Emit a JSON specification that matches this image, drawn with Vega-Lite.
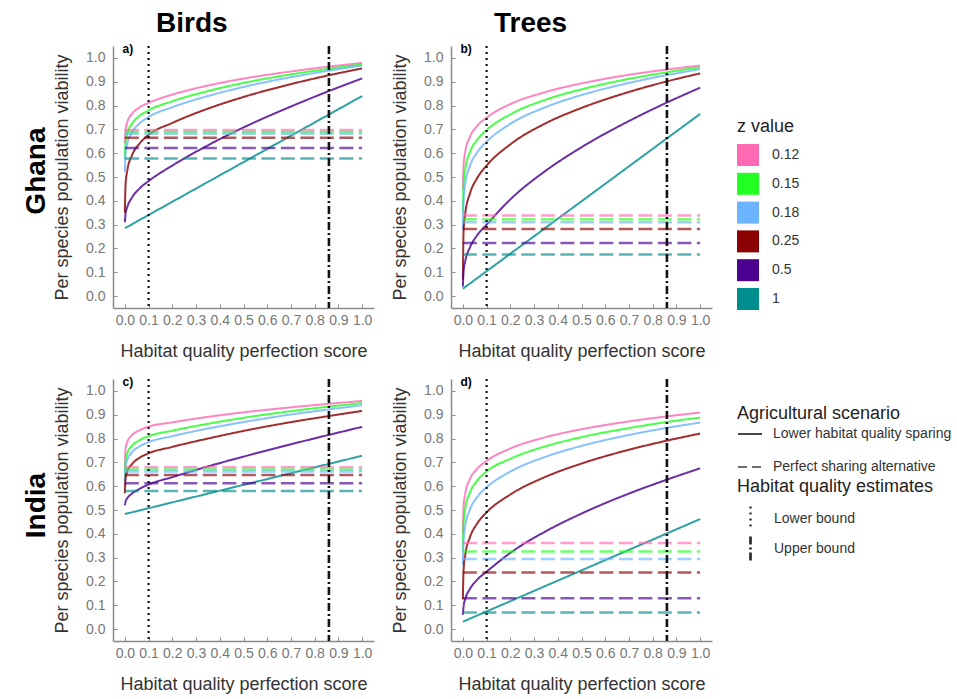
{
  "$schema": "https://vega.github.io/schema/vega-lite/v6.json",
  "padding": {"left": 22, "top": 10, "right": 5, "bottom": 5},
  "config": {
    "view": {"stroke": null},
    "font": "Liberation Sans",
    "axis": {"grid": false, "tickCount": 11, "domainColor": "#8a8a8a", "domainWidth": 1.5, "tickColor": "#8a8a8a", "tickSize": -4, "tickWidth": 1, "labelColor": "#777777", "labelFontSize": 14, "labelFlush": false, "labelOverlap": false, "titleFontSize": 18, "titleFontWeight": "normal", "titleColor": "#333333"},
    "axisX": {"labelPadding": 9, "titlePadding": 15},
    "axisY": {"labelPadding": 12, "titlePadding": 14},
    "legend": {"labelFontSize": 14, "titleFontSize": 18, "titleFontWeight": "normal", "labelColor": "#333333", "titleColor": "#222222", "padding": 0, "labelLimit": 400, "titleLimit": 400}
  },
  "datasets": {
    "bounds": [{"bound": "Lower bound", "hq": 0.1}, {"bound": "Upper bound", "hq": 0.86}],
    "sharing": [
      {"panel":"a","z":0.12,"x":0,"y":0.697},{"panel":"a","z":0.12,"x":1,"y":0.697},
      {"panel":"a","z":0.15,"x":0,"y":0.689},{"panel":"a","z":0.15,"x":1,"y":0.689},
      {"panel":"a","z":0.18,"x":0,"y":0.682},{"panel":"a","z":0.18,"x":1,"y":0.682},
      {"panel":"a","z":0.25,"x":0,"y":0.665},{"panel":"a","z":0.25,"x":1,"y":0.665},
      {"panel":"a","z":0.5,"x":0,"y":0.622},{"panel":"a","z":0.5,"x":1,"y":0.622},
      {"panel":"a","z":1,"x":0,"y":0.578},{"panel":"a","z":1,"x":1,"y":0.578},
      {"panel":"b","z":0.12,"x":0,"y":0.338},{"panel":"b","z":0.12,"x":1,"y":0.338},
      {"panel":"b","z":0.15,"x":0,"y":0.323},{"panel":"b","z":0.15,"x":1,"y":0.323},
      {"panel":"b","z":0.18,"x":0,"y":0.31},{"panel":"b","z":0.18,"x":1,"y":0.31},
      {"panel":"b","z":0.25,"x":0,"y":0.282},{"panel":"b","z":0.25,"x":1,"y":0.282},
      {"panel":"b","z":0.5,"x":0,"y":0.223},{"panel":"b","z":0.5,"x":1,"y":0.223},
      {"panel":"b","z":1,"x":0,"y":0.175},{"panel":"b","z":1,"x":1,"y":0.175},
      {"panel":"c","z":0.12,"x":0,"y":0.679},{"panel":"c","z":0.12,"x":1,"y":0.679},
      {"panel":"c","z":0.15,"x":0,"y":0.67},{"panel":"c","z":0.15,"x":1,"y":0.67},
      {"panel":"c","z":0.18,"x":0,"y":0.662},{"panel":"c","z":0.18,"x":1,"y":0.662},
      {"panel":"c","z":0.25,"x":0,"y":0.647},{"panel":"c","z":0.25,"x":1,"y":0.647},
      {"panel":"c","z":0.5,"x":0,"y":0.612},{"panel":"c","z":0.5,"x":1,"y":0.612},
      {"panel":"c","z":1,"x":0,"y":0.58},{"panel":"c","z":1,"x":1,"y":0.58},
      {"panel":"d","z":0.12,"x":0,"y":0.361},{"panel":"d","z":0.12,"x":1,"y":0.361},
      {"panel":"d","z":0.15,"x":0,"y":0.326},{"panel":"d","z":0.15,"x":1,"y":0.326},
      {"panel":"d","z":0.18,"x":0,"y":0.294},{"panel":"d","z":0.18,"x":1,"y":0.294},
      {"panel":"d","z":0.25,"x":0,"y":0.238},{"panel":"d","z":0.25,"x":1,"y":0.238},
      {"panel":"d","z":0.5,"x":0,"y":0.13},{"panel":"d","z":0.5,"x":1,"y":0.13},
      {"panel":"d","z":1,"x":0,"y":0.07},{"panel":"d","z":1,"x":1,"y":0.07}
    ],
    "curves": [
      {"panel":"a","z":0.12,"x":0,"y":0.64},{"panel":"a","z":0.12,"x":0.003,"y":0.699},{"panel":"a","z":0.12,"x":0.01,"y":0.729},{"panel":"a","z":0.12,"x":0.03,"y":0.765},{"panel":"a","z":0.12,"x":0.06,"y":0.791},{"panel":"a","z":0.12,"x":0.1,"y":0.811},{"panel":"a","z":0.12,"x":0.2,"y":0.846},{"panel":"a","z":0.12,"x":0.35,"y":0.884},{"panel":"a","z":0.12,"x":0.5,"y":0.913},{"panel":"a","z":0.12,"x":0.7,"y":0.943},{"panel":"a","z":0.12,"x":0.85,"y":0.962},{"panel":"a","z":0.12,"x":1,"y":0.979},
      {"panel":"a","z":0.15,"x":0,"y":0.58},{"panel":"a","z":0.15,"x":0.003,"y":0.647},{"panel":"a","z":0.15,"x":0.01,"y":0.682},{"panel":"a","z":0.15,"x":0.03,"y":0.724},{"panel":"a","z":0.15,"x":0.06,"y":0.755},{"panel":"a","z":0.15,"x":0.1,"y":0.78},{"panel":"a","z":0.15,"x":0.2,"y":0.818},{"panel":"a","z":0.15,"x":0.35,"y":0.861},{"panel":"a","z":0.15,"x":0.5,"y":0.895},{"panel":"a","z":0.15,"x":0.7,"y":0.931},{"panel":"a","z":0.15,"x":0.85,"y":0.953},{"panel":"a","z":0.15,"x":1,"y":0.973},
      {"panel":"a","z":0.18,"x":0,"y":0.52},{"panel":"a","z":0.18,"x":0.003,"y":0.598},{"panel":"a","z":0.18,"x":0.01,"y":0.639},{"panel":"a","z":0.18,"x":0.03,"y":0.687},{"panel":"a","z":0.18,"x":0.06,"y":0.723},{"panel":"a","z":0.18,"x":0.1,"y":0.752},{"panel":"a","z":0.18,"x":0.2,"y":0.793},{"panel":"a","z":0.18,"x":0.35,"y":0.84},{"panel":"a","z":0.18,"x":0.5,"y":0.878},{"panel":"a","z":0.18,"x":0.7,"y":0.919},{"panel":"a","z":0.18,"x":0.85,"y":0.945},{"panel":"a","z":0.18,"x":1,"y":0.968},
      {"panel":"a","z":0.25,"x":0,"y":0.35},{"panel":"a","z":0.25,"x":0.003,"y":0.47},{"panel":"a","z":0.25,"x":0.01,"y":0.526},{"panel":"a","z":0.25,"x":0.03,"y":0.591},{"panel":"a","z":0.25,"x":0.06,"y":0.638},{"panel":"a","z":0.25,"x":0.1,"y":0.677},{"panel":"a","z":0.25,"x":0.2,"y":0.727},{"panel":"a","z":0.25,"x":0.35,"y":0.787},{"panel":"a","z":0.25,"x":0.5,"y":0.836},{"panel":"a","z":0.25,"x":0.7,"y":0.89},{"panel":"a","z":0.25,"x":0.85,"y":0.925},{"panel":"a","z":0.25,"x":1,"y":0.956},
      {"panel":"a","z":0.5,"x":0,"y":0.31},{"panel":"a","z":0.5,"x":0.003,"y":0.346},{"panel":"a","z":0.5,"x":0.01,"y":0.373},{"panel":"a","z":0.5,"x":0.03,"y":0.414},{"panel":"a","z":0.5,"x":0.06,"y":0.45},{"panel":"a","z":0.5,"x":0.1,"y":0.483},{"panel":"a","z":0.5,"x":0.2,"y":0.548},{"panel":"a","z":0.5,"x":0.35,"y":0.633},{"panel":"a","z":0.5,"x":0.5,"y":0.708},{"panel":"a","z":0.5,"x":0.7,"y":0.796},{"panel":"a","z":0.5,"x":0.85,"y":0.857},{"panel":"a","z":0.5,"x":1,"y":0.914},
      {"panel":"a","z":1,"x":0,"y":0.285},{"panel":"a","z":1,"x":1,"y":0.84},
      {"panel":"b","z":0.12,"x":0,"y":0.45},{"panel":"b","z":0.12,"x":0.003,"y":0.548},{"panel":"b","z":0.12,"x":0.01,"y":0.606},{"panel":"b","z":0.12,"x":0.03,"y":0.669},{"panel":"b","z":0.12,"x":0.06,"y":0.714},{"panel":"b","z":0.12,"x":0.1,"y":0.749},{"panel":"b","z":0.12,"x":0.2,"y":0.806},{"panel":"b","z":0.12,"x":0.35,"y":0.857},{"panel":"b","z":0.12,"x":0.5,"y":0.893},{"panel":"b","z":0.12,"x":0.7,"y":0.929},{"panel":"b","z":0.12,"x":0.85,"y":0.95},{"panel":"b","z":0.12,"x":1,"y":0.968},
      {"panel":"b","z":0.15,"x":0,"y":0.35},{"panel":"b","z":0.15,"x":0.003,"y":0.468},{"panel":"b","z":0.15,"x":0.01,"y":0.533},{"panel":"b","z":0.15,"x":0.03,"y":0.605},{"panel":"b","z":0.15,"x":0.06,"y":0.656},{"panel":"b","z":0.15,"x":0.1,"y":0.697},{"panel":"b","z":0.15,"x":0.2,"y":0.763},{"panel":"b","z":0.15,"x":0.35,"y":0.825},{"panel":"b","z":0.15,"x":0.5,"y":0.868},{"panel":"b","z":0.15,"x":0.7,"y":0.912},{"panel":"b","z":0.15,"x":0.85,"y":0.938},{"panel":"b","z":0.15,"x":1,"y":0.961},
      {"panel":"b","z":0.18,"x":0,"y":0.28},{"panel":"b","z":0.18,"x":0.003,"y":0.401},{"panel":"b","z":0.18,"x":0.01,"y":0.47},{"panel":"b","z":0.18,"x":0.03,"y":0.547},{"panel":"b","z":0.18,"x":0.06,"y":0.603},{"panel":"b","z":0.18,"x":0.1,"y":0.648},{"panel":"b","z":0.18,"x":0.2,"y":0.723},{"panel":"b","z":0.18,"x":0.35,"y":0.794},{"panel":"b","z":0.18,"x":0.5,"y":0.844},{"panel":"b","z":0.18,"x":0.7,"y":0.895},{"panel":"b","z":0.18,"x":0.85,"y":0.926},{"panel":"b","z":0.18,"x":1,"y":0.953},
      {"panel":"b","z":0.25,"x":0,"y":0.07},{"panel":"b","z":0.25,"x":0.003,"y":0.272},{"panel":"b","z":0.25,"x":0.01,"y":0.346},{"panel":"b","z":0.25,"x":0.03,"y":0.431},{"panel":"b","z":0.25,"x":0.06,"y":0.495},{"panel":"b","z":0.25,"x":0.1,"y":0.548},{"panel":"b","z":0.25,"x":0.2,"y":0.637},{"panel":"b","z":0.25,"x":0.35,"y":0.726},{"panel":"b","z":0.25,"x":0.5,"y":0.79},{"panel":"b","z":0.25,"x":0.7,"y":0.857},{"panel":"b","z":0.25,"x":0.85,"y":0.899},{"panel":"b","z":0.25,"x":1,"y":0.935},
      {"panel":"b","z":0.5,"x":0,"y":0.04},{"panel":"b","z":0.5,"x":0.003,"y":0.103},{"panel":"b","z":0.5,"x":0.01,"y":0.146},{"panel":"b","z":0.5,"x":0.03,"y":0.205},{"panel":"b","z":0.5,"x":0.06,"y":0.255},{"panel":"b","z":0.5,"x":0.1,"y":0.3},{"panel":"b","z":0.5,"x":0.2,"y":0.406},{"panel":"b","z":0.5,"x":0.35,"y":0.527},{"panel":"b","z":0.5,"x":0.5,"y":0.625},{"panel":"b","z":0.5,"x":0.7,"y":0.735},{"panel":"b","z":0.5,"x":0.85,"y":0.808},{"panel":"b","z":0.5,"x":1,"y":0.875},
      {"panel":"b","z":1,"x":0,"y":0.031},{"panel":"b","z":1,"x":1,"y":0.765},
      {"panel":"c","z":0.12,"x":0,"y":0.66},{"panel":"c","z":0.12,"x":0.003,"y":0.757},{"panel":"c","z":0.12,"x":0.01,"y":0.785},{"panel":"c","z":0.12,"x":0.03,"y":0.814},{"panel":"c","z":0.12,"x":0.06,"y":0.834},{"panel":"c","z":0.12,"x":0.1,"y":0.85},{"panel":"c","z":0.12,"x":0.2,"y":0.868},{"panel":"c","z":0.12,"x":0.35,"y":0.891},{"panel":"c","z":0.12,"x":0.5,"y":0.91},{"panel":"c","z":0.12,"x":0.7,"y":0.931},{"panel":"c","z":0.12,"x":0.85,"y":0.945},{"panel":"c","z":0.12,"x":1,"y":0.958},
      {"panel":"c","z":0.15,"x":0,"y":0.62},{"panel":"c","z":0.15,"x":0.003,"y":0.709},{"panel":"c","z":0.15,"x":0.01,"y":0.738},{"panel":"c","z":0.15,"x":0.03,"y":0.77},{"panel":"c","z":0.15,"x":0.06,"y":0.792},{"panel":"c","z":0.15,"x":0.1,"y":0.81},{"panel":"c","z":0.15,"x":0.2,"y":0.833},{"panel":"c","z":0.15,"x":0.35,"y":0.862},{"panel":"c","z":0.15,"x":0.5,"y":0.887},{"panel":"c","z":0.15,"x":0.7,"y":0.915},{"panel":"c","z":0.15,"x":0.85,"y":0.933},{"panel":"c","z":0.15,"x":1,"y":0.949},
      {"panel":"c","z":0.18,"x":0,"y":0.6},{"panel":"c","z":0.18,"x":0.003,"y":0.68},{"panel":"c","z":0.18,"x":0.01,"y":0.709},{"panel":"c","z":0.18,"x":0.03,"y":0.742},{"panel":"c","z":0.18,"x":0.06,"y":0.766},{"panel":"c","z":0.18,"x":0.1,"y":0.785},{"panel":"c","z":0.18,"x":0.2,"y":0.81},{"panel":"c","z":0.18,"x":0.35,"y":0.842},{"panel":"c","z":0.18,"x":0.5,"y":0.869},{"panel":"c","z":0.18,"x":0.7,"y":0.901},{"panel":"c","z":0.18,"x":0.85,"y":0.921},{"panel":"c","z":0.18,"x":1,"y":0.94},
      {"panel":"c","z":0.25,"x":0,"y":0.57},{"panel":"c","z":0.25,"x":0.003,"y":0.634},{"panel":"c","z":0.25,"x":0.01,"y":0.661},{"panel":"c","z":0.25,"x":0.03,"y":0.693},{"panel":"c","z":0.25,"x":0.06,"y":0.718},{"panel":"c","z":0.25,"x":0.1,"y":0.738},{"panel":"c","z":0.25,"x":0.2,"y":0.765},{"panel":"c","z":0.25,"x":0.35,"y":0.8},{"panel":"c","z":0.25,"x":0.5,"y":0.832},{"panel":"c","z":0.25,"x":0.7,"y":0.869},{"panel":"c","z":0.25,"x":0.85,"y":0.893},{"panel":"c","z":0.25,"x":1,"y":0.916},
      {"panel":"c","z":0.5,"x":0,"y":0.52},{"panel":"c","z":0.5,"x":0.003,"y":0.536},{"panel":"c","z":0.5,"x":0.01,"y":0.549},{"panel":"c","z":0.5,"x":0.03,"y":0.569},{"panel":"c","z":0.5,"x":0.06,"y":0.588},{"panel":"c","z":0.5,"x":0.1,"y":0.607},{"panel":"c","z":0.5,"x":0.2,"y":0.638},{"panel":"c","z":0.5,"x":0.35,"y":0.683},{"panel":"c","z":0.5,"x":0.5,"y":0.724},{"panel":"c","z":0.5,"x":0.7,"y":0.776},{"panel":"c","z":0.5,"x":0.85,"y":0.813},{"panel":"c","z":0.5,"x":1,"y":0.849},
      {"panel":"c","z":1,"x":0,"y":0.483},{"panel":"c","z":1,"x":1,"y":0.728},
      {"panel":"d","z":0.12,"x":0,"y":0.4},{"panel":"d","z":0.12,"x":0.003,"y":0.512},{"panel":"d","z":0.12,"x":0.01,"y":0.569},{"panel":"d","z":0.12,"x":0.03,"y":0.63},{"panel":"d","z":0.12,"x":0.06,"y":0.673},{"panel":"d","z":0.12,"x":0.1,"y":0.706},{"panel":"d","z":0.12,"x":0.2,"y":0.758},{"panel":"d","z":0.12,"x":0.35,"y":0.806},{"panel":"d","z":0.12,"x":0.5,"y":0.839},{"panel":"d","z":0.12,"x":0.7,"y":0.872},{"panel":"d","z":0.12,"x":0.85,"y":0.892},{"panel":"d","z":0.12,"x":1,"y":0.909},
      {"panel":"d","z":0.15,"x":0,"y":0.33},{"panel":"d","z":0.15,"x":0.003,"y":0.444},{"panel":"d","z":0.15,"x":0.01,"y":0.506},{"panel":"d","z":0.15,"x":0.03,"y":0.574},{"panel":"d","z":0.15,"x":0.06,"y":0.623},{"panel":"d","z":0.15,"x":0.1,"y":0.662},{"panel":"d","z":0.15,"x":0.2,"y":0.715},{"panel":"d","z":0.15,"x":0.35,"y":0.768},{"panel":"d","z":0.15,"x":0.5,"y":0.806},{"panel":"d","z":0.15,"x":0.7,"y":0.844},{"panel":"d","z":0.15,"x":0.85,"y":0.868},{"panel":"d","z":0.15,"x":1,"y":0.888},
      {"panel":"d","z":0.18,"x":0,"y":0.27},{"panel":"d","z":0.18,"x":0.003,"y":0.371},{"panel":"d","z":0.18,"x":0.01,"y":0.432},{"panel":"d","z":0.18,"x":0.03,"y":0.502},{"panel":"d","z":0.18,"x":0.06,"y":0.554},{"panel":"d","z":0.18,"x":0.1,"y":0.595},{"panel":"d","z":0.18,"x":0.2,"y":0.661},{"panel":"d","z":0.18,"x":0.35,"y":0.724},{"panel":"d","z":0.18,"x":0.5,"y":0.769},{"panel":"d","z":0.18,"x":0.7,"y":0.815},{"panel":"d","z":0.18,"x":0.85,"y":0.843},{"panel":"d","z":0.18,"x":1,"y":0.867},
      {"panel":"d","z":0.25,"x":0,"y":0.125},{"panel":"d","z":0.25,"x":0.003,"y":0.247},{"panel":"d","z":0.25,"x":0.01,"y":0.311},{"panel":"d","z":0.25,"x":0.03,"y":0.386},{"panel":"d","z":0.25,"x":0.06,"y":0.443},{"panel":"d","z":0.25,"x":0.1,"y":0.49},{"panel":"d","z":0.25,"x":0.2,"y":0.565},{"panel":"d","z":0.25,"x":0.35,"y":0.64},{"panel":"d","z":0.25,"x":0.5,"y":0.695},{"panel":"d","z":0.25,"x":0.7,"y":0.753},{"panel":"d","z":0.25,"x":0.85,"y":0.789},{"panel":"d","z":0.25,"x":1,"y":0.821},
      {"panel":"d","z":0.5,"x":0,"y":0.06},{"panel":"d","z":0.5,"x":0.003,"y":0.096},{"panel":"d","z":0.5,"x":0.01,"y":0.126},{"panel":"d","z":0.5,"x":0.03,"y":0.169},{"panel":"d","z":0.5,"x":0.06,"y":0.207},{"panel":"d","z":0.5,"x":0.1,"y":0.241},{"panel":"d","z":0.5,"x":0.2,"y":0.32},{"panel":"d","z":0.5,"x":0.35,"y":0.411},{"panel":"d","z":0.5,"x":0.5,"y":0.485},{"panel":"d","z":0.5,"x":0.7,"y":0.569},{"panel":"d","z":0.5,"x":0.85,"y":0.624},{"panel":"d","z":0.5,"x":1,"y":0.675},
      {"panel":"d","z":1,"x":0,"y":0.031},{"panel":"d","z":1,"x":1,"y":0.462}
    ]
  },
  "bounds": "full",
  "spacing": 16,
  "vconcat": [
    {
      "title": {"text": "Ghana", "orient": "left", "anchor": "middle", "frame": "bounds", "dx": 14, "fontSize": 28, "fontWeight": "bold", "color": "#000000", "offset": 3},
      "bounds": "flush",
      "spacing": 77,
      "hconcat": [
        {
          "width": 261, "height": 262,
          "title": {"text": "Birds", "anchor": "start", "frame": "group", "dx": 43, "offset": -17, "baseline": "alphabetic", "fontSize": 28, "fontWeight": "bold", "color": "#000000"},
          "layer": [
            {"data": {"name": "curves"}, "transform": [{"filter": "datum.panel === 'a'"}],
             "mark": {"type": "line", "strokeWidth": 2, "interpolate": "monotone"},
             "encoding": {
               "x": {"field": "x", "type": "quantitative", "scale": {"domain": [-0.05, 1.05], "nice": false, "zero": false}, "title": "Habitat quality perfection score"},
               "y": {"field": "y", "type": "quantitative", "scale": {"domain": [-0.05, 1.05], "nice": false, "zero": false}, "title": "Per species population viability"},
               "color": {"field": "z", "type": "nominal", "scale": {"domain": [0.12,0.15,0.18,0.25,0.5,1], "range": ["#FF69B4","#22FF22","#6CB4FF","#8B0000","#4B0090","#008E8E"]},
                 "legend": {"title": "z value", "orient": "none", "legendX": 624, "legendY": 72, "symbolType": "square", "symbolSize": 484, "symbolStrokeWidth": 0, "symbolOpacity": 1, "labelOffset": 13, "rowPadding": 6.8, "titlePadding": 8, "encode": {"symbols": {"update": {"fill": {"scale": "color", "field": "value"}, "fillOpacity": {"value": 1}, "opacity": {"value": 1}}}}}},
               "strokeDash": {"datum": "Lower habitat quality sparing", "type": "nominal", "scale": {"domain": ["Lower habitat quality sparing", "Perfect sharing alternative", "Lower bound", "Upper bound"], "range": [[1,0],[14,5.5],[2,4],[8,3,2,3]]}, "legend": null},
               "opacity": {"datum": "Lower habitat quality sparing", "type": "nominal", "scale": {"domain": ["Lower habitat quality sparing", "Perfect sharing alternative"], "range": [0.82, 0.65]},
                 "legend": {"title": "Agricultural scenario", "orient": "none", "legendX": 624, "legendY": 359, "symbolType": "stroke", "symbolSize": 576, "symbolStrokeWidth": 2, "symbolStrokeColor": "#222222", "symbolOpacity": 1, "labelOffset": 10, "rowPadding": 13, "titlePadding": -2,
                   "encode": {"symbols": {"update": {"strokeDash": {"signal": "datum.value === 'Perfect sharing alternative' ? [9, 5] : [1, 0]"}, "stroke": {"value": "#222222"}, "opacity": {"value": 1}}}}}}
             }},
            {"data": {"name": "sharing"}, "transform": [{"filter": "datum.panel === 'a'"}],
             "mark": {"type": "line", "strokeWidth": 2.5},
             "encoding": {
               "x": {"field": "x", "type": "quantitative", "title": "Habitat quality perfection score"},
               "y": {"field": "y", "type": "quantitative", "title": "Per species population viability"},
               "color": {"field": "z", "type": "nominal"},
               "strokeDash": {"datum": "Perfect sharing alternative", "type": "nominal", "legend": null},
               "opacity": {"datum": "Perfect sharing alternative", "type": "nominal"}
             }},
            {"data": {"name": "bounds"},
             "mark": {"type": "rule", "color": "#111111"},
             "encoding": {
               "x": {"field": "hq", "type": "quantitative", "title": "Habitat quality perfection score"},
               "strokeDash": {"field": "bound", "type": "nominal", "legend": null},
               "strokeWidth": {"field": "bound", "type": "ordinal", "scale": {"domain": ["Lower bound", "Upper bound"], "range": [2.2, 2.6]},
                 "legend": {"title": "Habitat quality estimates", "orient": "none", "legendX": 624, "legendY": 432, "symbolType": "M0,-1L0,1", "symbolSize": 576, "symbolStrokeColor": "#222222", "labelOffset": 10, "rowPadding": -7.4, "titlePadding": 9,
                   "encode": {"symbols": {"update": {"strokeDash": {"signal": "datum.value === 'Lower bound' ? [2, 4] : [8, 3, 2, 3]"}, "stroke": {"value": "#222222"}, "strokeWidth": {"value": 2}}}}}}
             }},
            {"data": {"values": [{"label": "a)"}]},
             "mark": {"type": "text", "align": "left", "baseline": "alphabetic", "fontSize": 12, "fontWeight": "bold", "color": "#000000"},
             "encoding": {"x": {"datum": -0.01}, "y": {"datum": 1.02}, "text": {"field": "label"}}}
          ]
        },
        {
          "width": 261, "height": 262,
          "title": {"text": "Trees", "anchor": "start", "frame": "group", "dx": 43, "offset": -17, "baseline": "alphabetic", "fontSize": 28, "fontWeight": "bold", "color": "#000000"},
          "layer": [
            {"data": {"name": "curves"}, "transform": [{"filter": "datum.panel === 'b'"}],
             "mark": {"type": "line", "strokeWidth": 2, "interpolate": "monotone"},
             "encoding": {
               "x": {"field": "x", "type": "quantitative", "scale": {"domain": [-0.05, 1.05], "nice": false, "zero": false}, "title": "Habitat quality perfection score"},
               "y": {"field": "y", "type": "quantitative", "scale": {"domain": [-0.05, 1.05], "nice": false, "zero": false}, "title": "Per species population viability"},
               "color": {"field": "z", "type": "nominal"},
               "strokeDash": {"datum": "Lower habitat quality sparing", "type": "nominal", "legend": null},
               "opacity": {"datum": "Lower habitat quality sparing", "type": "nominal"}
             }},
            {"data": {"name": "sharing"}, "transform": [{"filter": "datum.panel === 'b'"}],
             "mark": {"type": "line", "strokeWidth": 2.5},
             "encoding": {
               "x": {"field": "x", "type": "quantitative", "title": "Habitat quality perfection score"},
               "y": {"field": "y", "type": "quantitative", "title": "Per species population viability"},
               "color": {"field": "z", "type": "nominal"},
               "strokeDash": {"datum": "Perfect sharing alternative", "type": "nominal", "legend": null},
               "opacity": {"datum": "Perfect sharing alternative", "type": "nominal"}
             }},
            {"data": {"name": "bounds"},
             "mark": {"type": "rule", "color": "#111111"},
             "encoding": {
               "x": {"field": "hq", "type": "quantitative", "title": "Habitat quality perfection score"},
               "strokeDash": {"field": "bound", "type": "nominal", "legend": null},
               "strokeWidth": {"field": "bound", "type": "ordinal"}
             }},
            {"data": {"values": [{"label": "b)"}]},
             "mark": {"type": "text", "align": "left", "baseline": "alphabetic", "fontSize": 12, "fontWeight": "bold", "color": "#000000"},
             "encoding": {"x": {"datum": -0.01}, "y": {"datum": 1.02}, "text": {"field": "label"}}}
          ]
        }
      ]
    },
    {
      "title": {"text": "India", "orient": "left", "anchor": "middle", "frame": "bounds", "dx": 29, "fontSize": 28, "fontWeight": "bold", "color": "#000000", "offset": 3},
      "bounds": "flush",
      "spacing": 77,
      "hconcat": [
        {
          "width": 261, "height": 262,
          "layer": [
            {"data": {"name": "curves"}, "transform": [{"filter": "datum.panel === 'c'"}],
             "mark": {"type": "line", "strokeWidth": 2, "interpolate": "monotone"},
             "encoding": {
               "x": {"field": "x", "type": "quantitative", "scale": {"domain": [-0.05, 1.05], "nice": false, "zero": false}, "title": "Habitat quality perfection score"},
               "y": {"field": "y", "type": "quantitative", "scale": {"domain": [-0.05, 1.05], "nice": false, "zero": false}, "title": "Per species population viability"},
               "color": {"field": "z", "type": "nominal"},
               "strokeDash": {"datum": "Lower habitat quality sparing", "type": "nominal", "legend": null},
               "opacity": {"datum": "Lower habitat quality sparing", "type": "nominal"}
             }},
            {"data": {"name": "sharing"}, "transform": [{"filter": "datum.panel === 'c'"}],
             "mark": {"type": "line", "strokeWidth": 2.5},
             "encoding": {
               "x": {"field": "x", "type": "quantitative", "title": "Habitat quality perfection score"},
               "y": {"field": "y", "type": "quantitative", "title": "Per species population viability"},
               "color": {"field": "z", "type": "nominal"},
               "strokeDash": {"datum": "Perfect sharing alternative", "type": "nominal", "legend": null},
               "opacity": {"datum": "Perfect sharing alternative", "type": "nominal"}
             }},
            {"data": {"name": "bounds"},
             "mark": {"type": "rule", "color": "#111111"},
             "encoding": {
               "x": {"field": "hq", "type": "quantitative", "title": "Habitat quality perfection score"},
               "strokeDash": {"field": "bound", "type": "nominal", "legend": null},
               "strokeWidth": {"field": "bound", "type": "ordinal"}
             }},
            {"data": {"values": [{"label": "c)"}]},
             "mark": {"type": "text", "align": "left", "baseline": "alphabetic", "fontSize": 12, "fontWeight": "bold", "color": "#000000"},
             "encoding": {"x": {"datum": -0.01}, "y": {"datum": 1.02}, "text": {"field": "label"}}}
          ]
        },
        {
          "width": 261, "height": 262,
          "layer": [
            {"data": {"name": "curves"}, "transform": [{"filter": "datum.panel === 'd'"}],
             "mark": {"type": "line", "strokeWidth": 2, "interpolate": "monotone"},
             "encoding": {
               "x": {"field": "x", "type": "quantitative", "scale": {"domain": [-0.05, 1.05], "nice": false, "zero": false}, "title": "Habitat quality perfection score"},
               "y": {"field": "y", "type": "quantitative", "scale": {"domain": [-0.05, 1.05], "nice": false, "zero": false}, "title": "Per species population viability"},
               "color": {"field": "z", "type": "nominal"},
               "strokeDash": {"datum": "Lower habitat quality sparing", "type": "nominal", "legend": null},
               "opacity": {"datum": "Lower habitat quality sparing", "type": "nominal"}
             }},
            {"data": {"name": "sharing"}, "transform": [{"filter": "datum.panel === 'd'"}],
             "mark": {"type": "line", "strokeWidth": 2.5},
             "encoding": {
               "x": {"field": "x", "type": "quantitative", "title": "Habitat quality perfection score"},
               "y": {"field": "y", "type": "quantitative", "title": "Per species population viability"},
               "color": {"field": "z", "type": "nominal"},
               "strokeDash": {"datum": "Perfect sharing alternative", "type": "nominal", "legend": null},
               "opacity": {"datum": "Perfect sharing alternative", "type": "nominal"}
             }},
            {"data": {"name": "bounds"},
             "mark": {"type": "rule", "color": "#111111"},
             "encoding": {
               "x": {"field": "hq", "type": "quantitative", "title": "Habitat quality perfection score"},
               "strokeDash": {"field": "bound", "type": "nominal", "legend": null},
               "strokeWidth": {"field": "bound", "type": "ordinal"}
             }},
            {"data": {"values": [{"label": "d)"}]},
             "mark": {"type": "text", "align": "left", "baseline": "alphabetic", "fontSize": 12, "fontWeight": "bold", "color": "#000000"},
             "encoding": {"x": {"datum": -0.01}, "y": {"datum": 1.02}, "text": {"field": "label"}}}
          ]
        }
      ]
    }
  ]
}
